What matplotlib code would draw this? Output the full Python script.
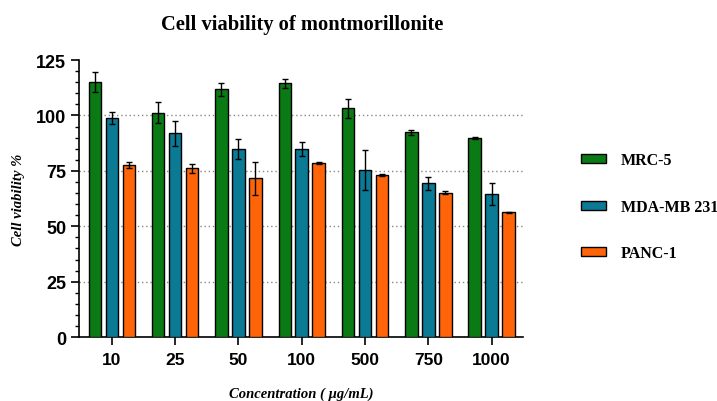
import numpy as np
import matplotlib
matplotlib.use("Agg")
import matplotlib.pyplot as plt
from matplotlib.ticker import MultipleLocator

concentrations = ["10", "25", "50", "100", "500", "750", "1000"]
series_names = ["MRC-5", "MDA-MB 231", "PANC-1"]
mrc5 = [115.1, 101.2, 111.8, 114.6, 103.2, 92.4, 89.8]
mrc5_err = [4.7, 4.8, 2.8, 2.0, 4.4, 1.2, 0.5]
mda = [99.0, 91.9, 84.9, 85.0, 75.5, 69.4, 64.7]
mda_err = [2.7, 5.7, 4.6, 3.2, 9.0, 3.0, 5.0]
panc = [77.8, 76.1, 71.6, 78.5, 73.0, 65.2, 56.3]
panc_err = [1.3, 2.0, 7.6, 0.5, 0.5, 0.8, 0.3]
colors = ["#0A7A14", "#0B7A94", "#FF6508"]

fig = plt.figure(figsize=(7.17, 4.02), dpi=100)
ax = fig.add_axes([0.110, 0.159, 0.619, 0.689])

x = np.arange(len(concentrations))
offset = 0.268
width = 0.197
for i, (vals, errs) in enumerate([(mrc5, mrc5_err), (mda, mda_err), (panc, panc_err)]):
    ax.bar(x + (i - 1) * offset, vals, width, yerr=errs, color=colors[i],
           edgecolor="black", linewidth=1.0, label=series_names[i], zorder=3,
           error_kw=dict(ecolor="black", elinewidth=1.0, capsize=2.0, capthick=1.0, zorder=4))

ax.set_xlim(-0.52, 6.49)
ax.set_ylim(0, 125)
ax.set_yticks([0, 25, 50, 75, 100, 125])
ax.yaxis.set_minor_locator(MultipleLocator(5))
ax.set_xticks(x)
ax.set_xticklabels(concentrations)

for yv in [25, 50, 75, 100]:
    ax.axhline(yv, color="#888888", linestyle=(0, (1, 2)), linewidth=1.0, zorder=1)

for s in ["top", "right"]:
    ax.spines[s].set_visible(False)
for s in ["left", "bottom"]:
    ax.spines[s].set_linewidth(1.2)

ax.tick_params(axis="y", which="major", length=6, width=1.2, labelsize=13, pad=3)
ax.tick_params(axis="y", which="minor", length=3, width=1.0)
ax.tick_params(axis="x", which="major", length=6, width=1.2, labelsize=12.5, pad=5)
for lab in ax.get_xticklabels() + ax.get_yticklabels():
    lab.set_fontfamily("Liberation Sans")
    lab.set_fontweight("bold")

ax.set_ylabel("Cell viability %", fontfamily="Liberation Serif", fontweight="bold",
              fontstyle="italic", fontsize=10.5, labelpad=8)
ax.set_xlabel("Concentration ( \u00b5g/mL)", fontfamily="Liberation Serif", fontweight="bold",
              fontstyle="italic", fontsize=10.5, labelpad=14)
fig.text(0.421, 0.937, "Cell viability of montmorillonite", ha="center", va="center",
         fontfamily="Liberation Serif", fontweight="bold", fontsize=14.8)

leg = fig.legend(loc="center left", bbox_to_anchor=(0.790, 0.483), frameon=False,
                 prop=dict(family="Liberation Serif", weight="bold", size=11.5),
                 handlelength=1.55, handleheight=0.5, labelspacing=1.9, handletextpad=0.95)

fig.savefig("out.png", dpi=100)
